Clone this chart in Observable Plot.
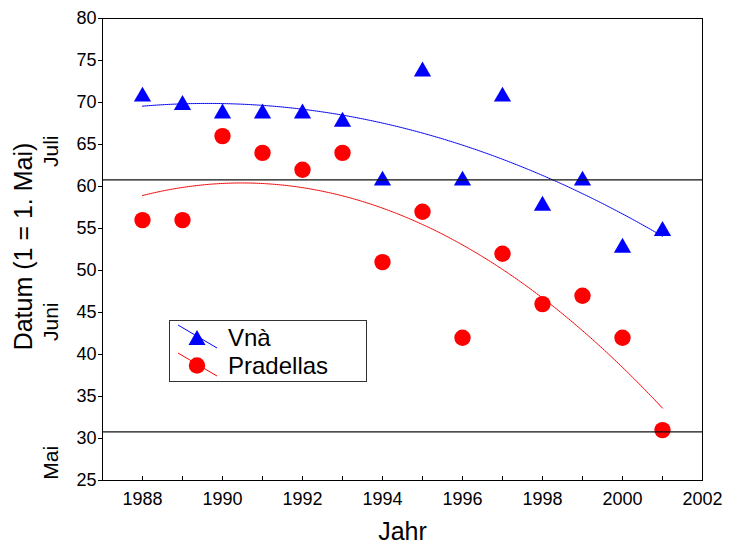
<!DOCTYPE html>
<html><head><meta charset="utf-8">
<script src="https://cdn.jsdelivr.net/npm/d3@7"></script>
<script src="https://cdn.jsdelivr.net/npm/@observablehq/plot@0.6"></script>
<style>
html,body{margin:0;padding:0;background:#fff;}
#wrap{position:relative;width:739px;height:545px;font-family:"Liberation Sans",Arial,sans-serif;}
#legend{position:absolute;left:169px;top:320px;width:196px;height:60px;border:1px solid #333;background:#fff;}
#legend svg{display:block;}
</style></head><body>
<div id="wrap"><div id="legend"></div></div>
<script>
// ---- data ----
const years = [1988,1989,1990,1991,1992,1993,1994,1995,1996,1997,1998,1999,2000,2001];
const vna = [71,70,69,69,69,68,61,74,61,71,58,61,53,55];
const pradellas = [56,56,66,64,62,64,51,57,42,52,46,47,42,31];
const seriesNames = ["Vnà","Pradellas"];
const seriesColors = ["#0000ff","#ff0000"];
const yTicks = [25,30,35,40,45,50,55,60,65,70,75,80];
const xTickLabels = [1988,1990,1992,1994,1996,1998,2000,2002];
const xMinorTicks = [1987,1988,1989,1990,1991,1992,1993,1994,1995,1996,1997,1998,1999,2000,2001,2002];
const monthNames = ["Juli","Juni","Mai"];
const monthLabelY = [64.2,43.9,27.1];
const monthStarts = [30.8,60.8];
const xTitle = "Jahr";
const yTitle = "Datum (1 = 1. Mai)";

// ---- quadratic least-squares fit ----
function quadFit(xs, ys) {
  const x0 = d3.mean(xs);
  const S = [0,0,0,0,0], T = [0,0,0];
  xs.forEach((x,i) => {
    const t = x - x0;
    for (let k = 0; k < 5; k++) S[k] += t ** k;
    for (let k = 0; k < 3; k++) T[k] += (t ** k) * ys[i];
  });
  const M = [[S[0],S[1],S[2]],[S[1],S[2],S[3]],[S[2],S[3],S[4]]];
  const det = m => m[0][0]*(m[1][1]*m[2][2]-m[1][2]*m[2][1]) - m[0][1]*(m[1][0]*m[2][2]-m[1][2]*m[2][0]) + m[0][2]*(m[1][0]*m[2][1]-m[1][1]*m[2][0]);
  const D = det(M);
  const c = [0,1,2].map(j => det(M.map((row,r) => row.map((v,col) => col === j ? T[r] : v))) / D);
  return x => { const t = x - x0; return c[0] + c[1]*t + c[2]*t*t; };
}
const fitV = quadFit(years, vna);
const fitP = quadFit(years, pradellas);
const xs = d3.range(years[0], years[years.length-1] + 0.001, 0.05);
const curveV = xs.map(x => ({x, y: fitV(x)}));
const curveP = xs.map(x => ({x, y: fitP(x)}));

const ptsV = years.map((y,i) => ({x: y, y: vna[i]}));
const ptsP = years.map((y,i) => ({x: y, y: pradellas[i]}));

const chart = Plot.plot({
  width: 739, height: 545,
  marginLeft: 102, marginRight: 37, marginTop: 18, marginBottom: 65,
  style: {fontFamily: '"Liberation Sans", Arial, sans-serif', background: "#fff", color: "#000"},
  x: {domain: [1987, 2002]},
  y: {domain: [25, 80]},
  marks: [
    Plot.line(curveV, {x: "x", y: "y", stroke: seriesColors[0], strokeWidth: 1}),
    Plot.line(curveP, {x: "x", y: "y", stroke: seriesColors[1], strokeWidth: 1}),
    Plot.dot(ptsV, {x: "x", y: "y", symbol: "triangle", r: 6.4, fill: seriesColors[0], stroke: "none", dy: 2.5}),
    Plot.dot(ptsP, {x: "x", y: "y", r: 8.2, fill: seriesColors[1], stroke: "none"}),
    Plot.ruleY(monthStarts, {stroke: "#111", strokeWidth: 1.2}),
    Plot.ruleX(xMinorTicks, {x: d => d, insetTop: 458, stroke: "#000"}),
    Plot.axisY(yTicks, {tickSize: 4, tickPadding: 2, fontSize: 18, label: null}),
    Plot.axisX(xTickLabels, {tickSize: 0, tickPadding: 12, fontSize: 18, label: null, tickFormat: d => String(d)}),
    Plot.text(monthNames, {y: (d,i) => monthLabelY[i], text: d => d, frameAnchor: "left", textAnchor: "middle", lineAnchor: "middle", rotate: -90, dx: -51, fontSize: 21}),
    Plot.text([yTitle], {frameAnchor: "left", textAnchor: "middle", lineAnchor: "middle", rotate: -90, dx: -79, dy: -3, fontSize: 25}),
    Plot.text([xTitle], {frameAnchor: "bottom", textAnchor: "middle", lineAnchor: "middle", dy: 51, fontSize: 25}),
    Plot.frame({stroke: "#000"})
  ]
});
document.getElementById("wrap").insertBefore(chart, document.getElementById("legend"));

// ---- legend ----
const lg = d3.select("#legend").append("svg").attr("width", 196).attr("height", 60);
const rows = [{dy: 0, sym: "tri"}, {dy: 28, sym: "circ"}];
seriesNames.forEach((name, i) => {
  const oy = rows[i].dy;
  lg.append("line").attr("x1", 8).attr("y1", 4 + oy).attr("x2", 47).attr("y2", 27 + oy)
    .attr("stroke", seriesColors[i]).attr("stroke-width", 1);
  if (rows[i].sym === "tri") {
    lg.append("path").attr("d", `M27,${9+oy}L18.5,${24+oy}L35.5,${24+oy}Z`).attr("fill", seriesColors[i]);
  } else {
    lg.append("circle").attr("cx", 27).attr("cy", 16.5 + oy).attr("r", 8.2).attr("fill", seriesColors[i]);
  }
  lg.append("text").attr("x", 58).attr("y", 25 + oy).attr("font-size", 24)
    .attr("font-family", '"Liberation Sans", Arial, sans-serif').attr("fill", "#000").text(name);
});
</script>
</body></html>
